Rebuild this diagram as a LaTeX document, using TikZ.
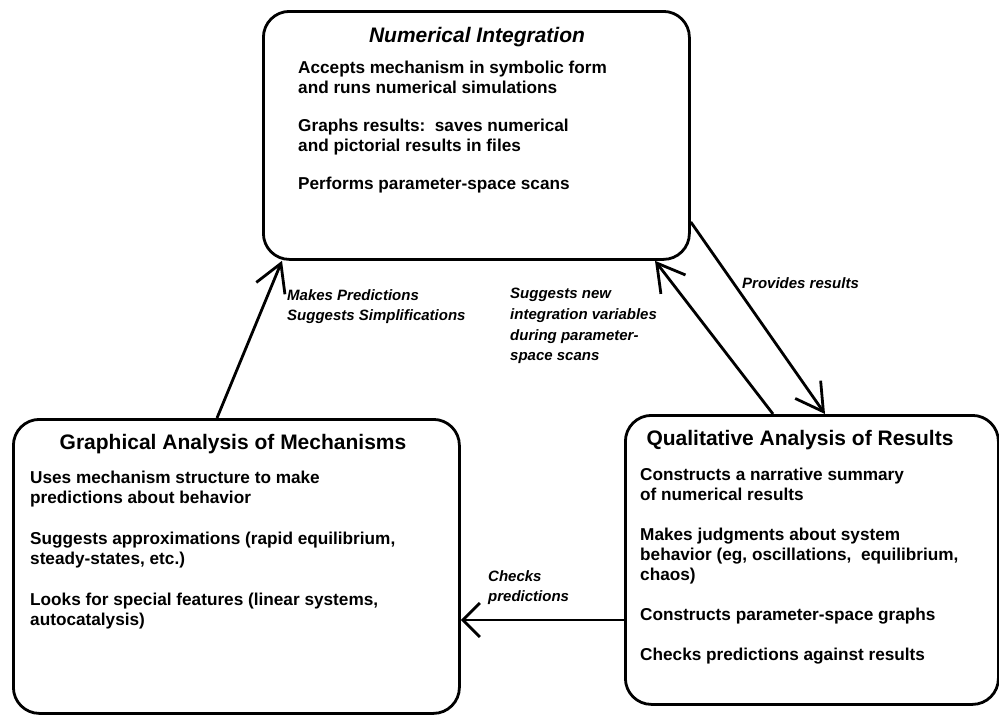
\documentclass[tikz,border=0pt]{standalone}
\usepackage{fontspec}
\setmainfont{Liberation Sans}
\usetikzlibrary{arrows.meta,calc}
\begin{document}
\begin{tikzpicture}[x=1pt,y=-1pt,
  box/.style={draw,line width=2.8pt,rounded corners=26pt,anchor=north west,inner sep=0pt},
  ttl/.style={font=\fontsize{21}{25}\selectfont\bfseries,anchor=base,inner sep=0pt},
  body/.style={font=\fontsize{17.2}{20}\selectfont\bfseries,align=left,anchor=north west,inner sep=0pt},
  lbl/.style={font=\fontsize{15}{20.7}\selectfont\bfseries\itshape,align=left,anchor=north west,inner sep=0pt},
  arr/.style={line width=2.8pt,-{Straight Barb[length=27pt,width=31pt,line width=2.8pt]}},
  arrh/.style={line width=2.8pt,-{Straight Barb[length=17pt,width=34pt,line width=2.8pt]}}
]
\useasboundingbox (0,0) rectangle (999,715);

% boxes
\node[box,minimum width=426pt,minimum height=248pt] (top) at (262,10) {};
\node[box,minimum width=446pt,minimum height=294pt] (left) at (12,418) {};
\node[box,minimum width=373pt,minimum height=289pt] (right) at (624,414) {};

% top box text
\node[ttl,font=\fontsize{21}{25}\selectfont\bfseries\itshape] (ttop) at (477,42) {Numerical Integration};
\node[body] (btop) at (298,61) {Accepts mechanism in symbolic form\\
and runs numerical simulations\\[18pt]
Graphs results:\ \ saves numerical\\
and pictorial results in files\\[18pt]
Performs parameter-space scans};

% left box text
\node[ttl] (tleft) at (233,449) {Graphical Analysis of Mechanisms};
\node[body] (bleft) at (30,471) {Uses mechanism structure to make\\
predictions about behavior\\[21pt]
Suggests approximations (rapid equilibrium,\\
steady-states, etc.)\\[21pt]
Looks for special features (linear systems,\\
autocatalysis)};

% right box text
\node[ttl] (tright) at (800,445) {Qualitative Analysis of Results};
\node[body] (bright) at (640,468) {Constructs a narrative summary\\
of numerical results\\[20pt]
Makes judgments about system\\
behavior (eg, oscillations,\ \ equilibrium,\\
chaos)\\[20pt]
Constructs parameter-space graphs\\[20pt]
Checks predictions against results};

% connectors
\draw[arr] ($(left.north west)+(205,0)$) -- ($(top.south west)+(20,0)$);
\draw[arr] ($(right.north west)+(149,0)$) -- ($(top.south west)+(393,0)$);
\draw[arr] ($(top.north east)+(0,212)$) -- ($(right.north west)+(201,0)$);
\draw[arrh] ($(right.north west)+(0,206)$) -- ($(left.north east)+(0,202)$);

% labels
\node[lbl] (l1) at (287,289) {Makes Predictions\\Suggests Simplifications};
\node[lbl] (l2) at (510,288) {Suggests new\\integration variables\\during parameter-\\space scans};
\node[lbl] (l3) at (742,277) {Provides results};
\node[lbl] (l4) at (488,570) {Checks\\predictions};
\end{tikzpicture}
\end{document}
